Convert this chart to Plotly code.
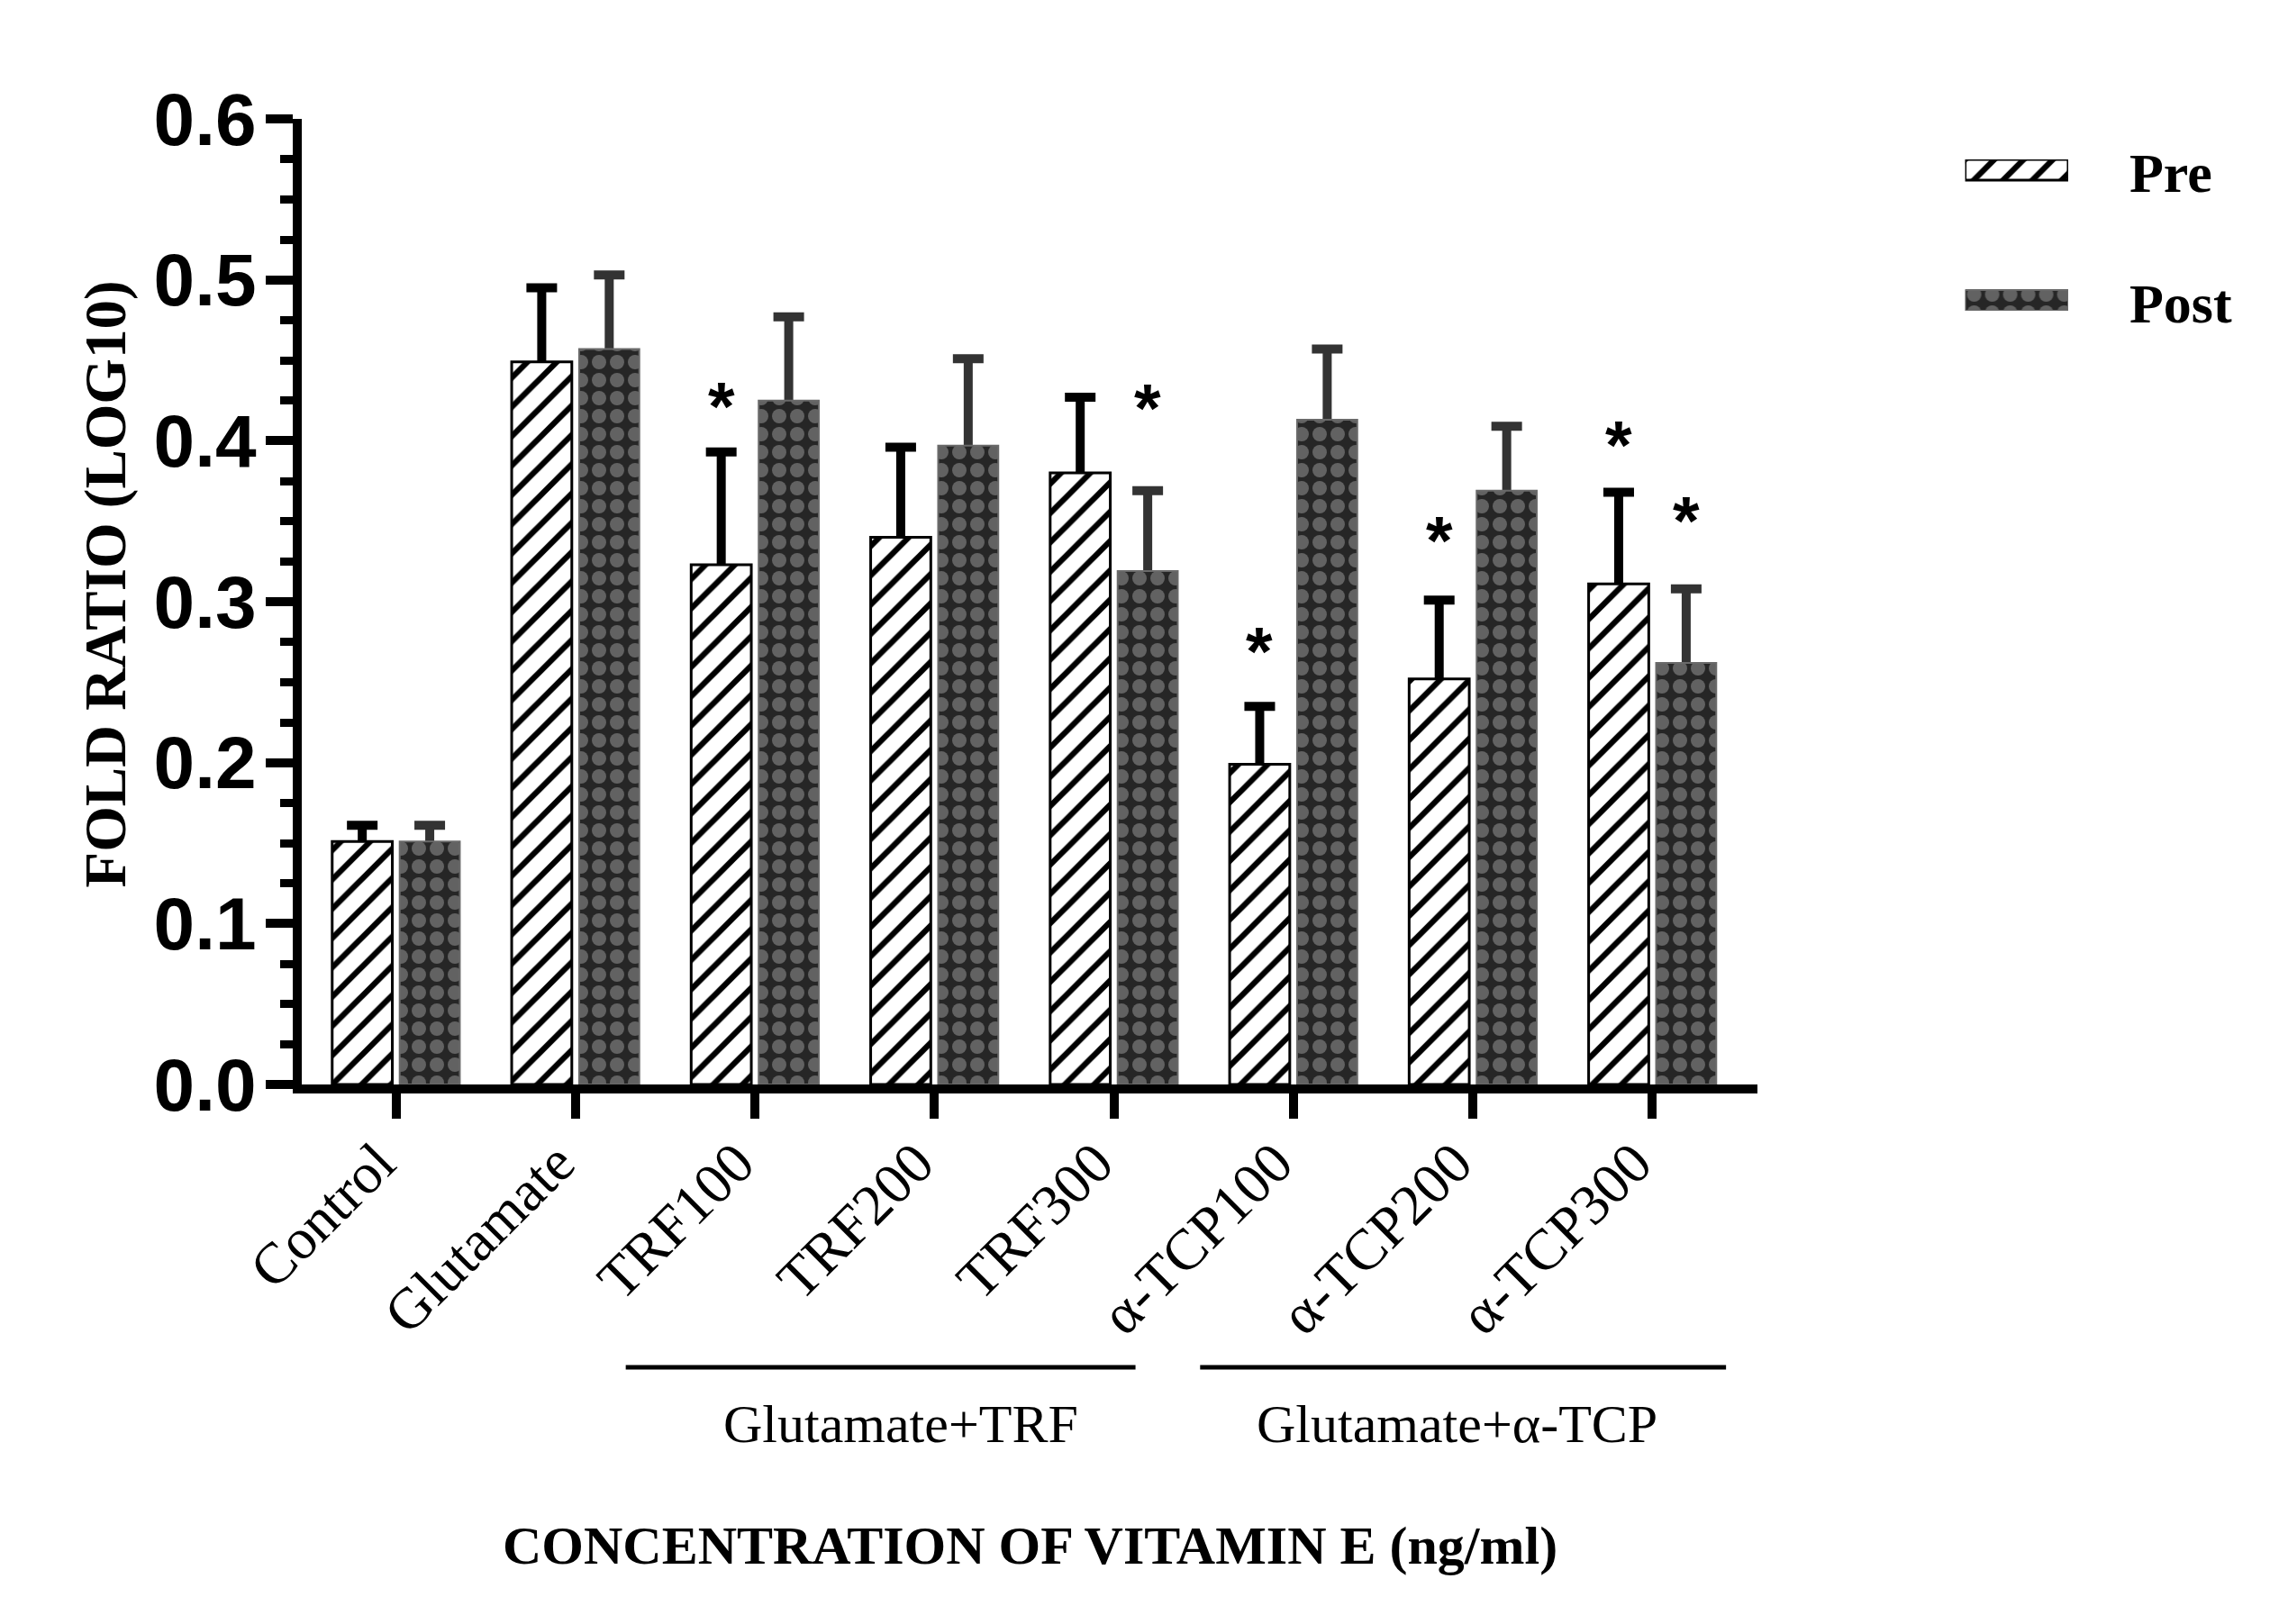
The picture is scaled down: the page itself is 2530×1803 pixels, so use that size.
import plotly.graph_objects as go

# ---------------- data ----------------
categories = ["Control", "Glutamate", "TRF100", "TRF200", "TRF300",
              "α-TCP100", "α-TCP200", "α-TCP300"]
pre_values = [0.151, 0.449, 0.323, 0.340, 0.380, 0.199, 0.252, 0.311]
pre_errors = [0.010, 0.046, 0.070, 0.056, 0.047, 0.036, 0.049, 0.057]
post_values = [0.151, 0.457, 0.425, 0.397, 0.319, 0.413, 0.369, 0.262]
post_errors = [0.010, 0.046, 0.052, 0.054, 0.050, 0.044, 0.040, 0.046]
# height of the significance asterisks (None = no asterisk)
pre_star_y = [None, None, 0.431, None, None, 0.279, 0.348, 0.407]
post_star_y = [None, None, None, None, 0.430, None, None, 0.360]
group_labels = ["Glutamate+TRF", "Glutamate+α-TCP"]
group_spans = [(1.28, 4.12), (4.48, 7.41)]
group_centers = [2.81, 5.91]
series_names = ["Pre", "Post"]

# ---------------- styling ----------------
SERIF = "Liberation Serif"
SANS = "Liberation Sans"
BAR_W = 0.335
CENTER = 0.188
pre_pattern = dict(shape="/", size=23, solidity=0.28, fgcolor="#000000",
                   bgcolor="#ffffff", fgopacity=1, fillmode="replace")
post_pattern = dict(shape=".", size=20, solidity=0.5, fgcolor="#626262",
                    bgcolor="#262626", fgopacity=1, fillmode="replace")

x_idx = list(range(len(categories)))

fig = go.Figure()

# error bars (drawn first, the visible bars cover their lower half)
fig.add_trace(go.Bar(
    x=x_idx, y=pre_values, width=BAR_W, offset=-CENTER - BAR_W / 2,
    marker=dict(color="rgba(0,0,0,0)", line=dict(width=0)),
    error_y=dict(type="data", array=pre_errors, color="black", thickness=10, width=17),
    showlegend=False, hoverinfo="skip"))
fig.add_trace(go.Bar(
    x=x_idx, y=post_values, width=BAR_W, offset=CENTER - BAR_W / 2,
    marker=dict(color="rgba(0,0,0,0)", line=dict(width=0)),
    error_y=dict(type="data", array=post_errors, color="#333333", thickness=10, width=17),
    showlegend=False, hoverinfo="skip"))

# visible bars
fig.add_trace(go.Bar(
    name=series_names[0], x=x_idx, y=pre_values, width=BAR_W, offset=-CENTER - BAR_W / 2,
    marker=dict(color="#ffffff", line=dict(color="black", width=3), pattern=pre_pattern),
    showlegend=False))
fig.add_trace(go.Bar(
    name=series_names[1], x=x_idx, y=post_values, width=BAR_W, offset=CENTER - BAR_W / 2,
    marker=dict(color="#262626", line=dict(color="#6a6a6a", width=2), pattern=post_pattern),
    showlegend=False))

# legend swatches on a small helper axis
SW = 0.1586
fig.add_trace(go.Bar(
    x=[1], y=[1], base=0, orientation="h", width=SW, xaxis="x2", yaxis="y2",
    marker=dict(color="#ffffff", line=dict(color="black", width=3), pattern=pre_pattern),
    showlegend=False, hoverinfo="skip"))
fig.add_trace(go.Bar(
    x=[1], y=[0], base=0, orientation="h", width=SW, xaxis="x2", yaxis="y2",
    marker=dict(color="#262626", line=dict(color="#6a6a6a", width=2), pattern=post_pattern),
    showlegend=False, hoverinfo="skip"))

annotations = []
# asterisks
for i, (sp, sq) in enumerate(zip(pre_star_y, post_star_y)):
    for s, off in ((sp, -CENTER), (sq, CENTER)):
        if s is not None:
            annotations.append(dict(
                x=i + off, y=s, xref="x", yref="y", text="*", showarrow=False,
                xanchor="center", yanchor="middle", yshift=-17,
                font=dict(family=SANS, size=76, color="black", weight="bold")))

# group labels and lines
shapes = []
for (a, b), c, lab in zip(group_spans, group_centers, group_labels):
    shapes.append(dict(type="line", xref="x", yref="y domain", x0=a, x1=b,
                       y0=-0.293, y1=-0.293, line=dict(color="black", width=5)))
    annotations.append(dict(x=c, y=-0.352, xref="x", yref="y domain", text=lab,
                            showarrow=False, xanchor="center", yanchor="middle",
                            font=dict(family=SERIF, size=60, color="black")))

# axis titles
annotations.append(dict(x=0.5, y=-0.478, xref="x domain", yref="y domain",
                        text="CONCENTRATION OF VITAMIN E (ng/ml)", showarrow=False,
                        xanchor="center", yanchor="middle",
                        font=dict(family=SERIF, size=60, color="black", weight="bold")))
annotations.append(dict(x=-0.135, y=0.518, xref="x domain", yref="y domain",
                        text="FOLD RATIO (LOG10)", showarrow=False, textangle=-90,
                        xanchor="center", yanchor="middle",
                        font=dict(family=SERIF, size=65, color="black", weight="bold")))

# legend texts
for name, yy in zip(series_names, [0.944, 0.809]):
    annotations.append(dict(x=0.932, y=yy, xref="paper", yref="paper", text=name,
                            showarrow=False, xanchor="left", yanchor="middle",
                            font=dict(family=SERIF, size=62, color="black", weight="bold")))

fig.update_layout(
    width=2514, height=1787,
    margin=dict(l=327, r=12, t=124, b=591),
    paper_bgcolor="white", plot_bgcolor="white",
    barmode="overlay",
    showlegend=False,
    xaxis=dict(
        domain=[0, 0.74299], range=[-0.525, 7.585],
        tickmode="array", tickvals=x_idx, ticktext=categories, tickangle=-45,
        tickfont=dict(family=SERIF, size=64, color="black"),
        ticklabelshift=-20, ticklabelstandoff=-14,
        ticks="outside", ticklen=28, tickwidth=10, tickcolor="black",
        showline=True, linewidth=10, linecolor="black",
        showgrid=False, zeroline=False),
    yaxis=dict(
        range=[0, 0.6], dtick=0.1, tickformat=".1f",
        tickfont=dict(family=SANS, size=82, color="black", weight="bold"),
        ticklabelstandoff=-6,
        ticks="outside", ticklen=30, tickwidth=10, tickcolor="black",
        minor=dict(dtick=0.025, ticks="outside", ticklen=14, tickwidth=9,
                   tickcolor="black", showgrid=False),
        showline=True, linewidth=10, linecolor="black",
        showgrid=False, zeroline=False),
    xaxis2=dict(domain=[0.849, 0.9016], range=[0, 1], anchor="y2", visible=False,
                fixedrange=True),
    yaxis2=dict(domain=[0.8013, 0.958], range=[-0.0793, 1.0793], anchor="x2",
                visible=False, fixedrange=True),
    shapes=shapes,
    annotations=annotations,
)

fig.write_html("out.html")
